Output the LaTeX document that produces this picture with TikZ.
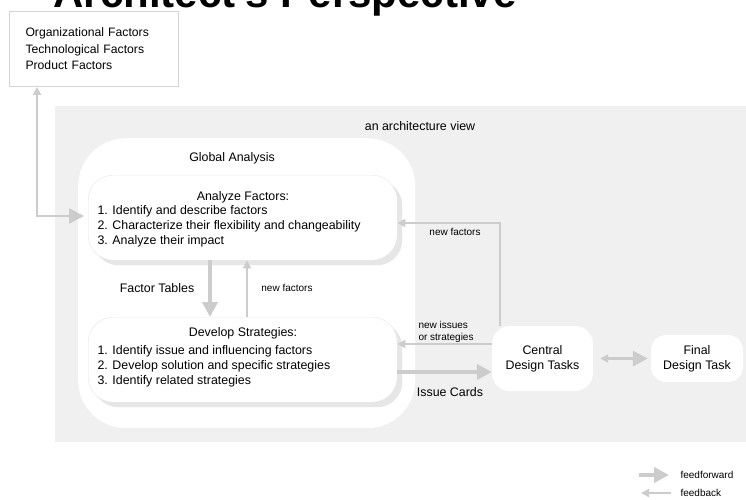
\documentclass[tikz,border=0pt]{standalone}
\usepackage{fontspec}
\setmainfont{Liberation Sans}
\usetikzlibrary{arrows.meta,shadows}

\definecolor{viewgray}{HTML}{F0F0F0}
\definecolor{linkgray}{HTML}{CCCCCC}
\definecolor{edgegray}{HTML}{D4D4D4}
\definecolor{shadegray}{HTML}{E6E6E6}

\tikzset{
    fftip/.tip={Triangle[length=15pt,width=15pt]},
    fbtip/.tip={Triangle[length=8pt,width=8pt]},
    maintext/.style={font=\fontsize{12.4}{15}\selectfont},
    smalltext/.style={font=\fontsize{10}{12}\selectfont},
    factorbox/.style={draw=edgegray, line width=1pt, fill=white, align=left,
        text width=137pt, inner xsep=16pt, minimum height=75pt,
        font=\fontsize{12.2}{16.5}\selectfont},
    stepsbox/.style={draw=shadegray, fill=white, rounded corners=25pt,
        minimum width=309pt, minimum height=85pt,
        copy shadow={shadow xshift=5pt, shadow yshift=-5pt, fill=shadegray, draw=none}},
    taskbox/.style={fill=white, align=center, maintext},
    ffarrow/.style={draw=linkgray, line width=4pt, -{fftip}},
    fbarrow/.style={draw=linkgray, line width=2.5pt, -{fbtip}},
}

\begin{document}
\begin{tikzpicture}[x=1pt,y=-1pt]
    \useasboundingbox (0,0) rectangle (746,500);

    % Title, cut by the top of the page
    \node[anchor=base, font=\fontsize{42}{48}\selectfont\bfseries] (title) at (285,8) {Architect's Perspective};

    % Factors
    \node[factorbox, anchor=north west] (factors) at (9,11) {Organizational Factors\\Technological Factors\\Product Factors};

    % Architecture view
    \fill[viewgray] (55,106) rectangle (746,442);
    \node[maintext] (view) at (420,126) {an architecture view};

    % Global analysis
    \node[fill=white, rounded corners=48pt, minimum width=337pt, minimum height=290pt, anchor=north west] (global) at (78,138) {};
    \node[maintext] (globaltitle) at (232,158) {Global Analysis};

    \node[stepsbox, anchor=north west] (analyze) at (88,175) {};
    \node[maintext] (analyzehead) at (243,197) {Analyze Factors:};
    \node[maintext, anchor=west, align=left] (analyzelist) at (94,226) {1. Identify and describe factors\\2. Characterize their flexibility and changeability\\3. Analyze their impact};

    \node[stepsbox, anchor=north west] (develop) at (88,317) {};
    \node[maintext] (develophead) at (243,333) {Develop Strategies:};
    \node[maintext, anchor=west, align=left] (developlist) at (94,366) {1. Identify issue and influencing factors\\2. Develop solution and specific strategies\\3. Identify related strategies};

    % Design tasks
    \node[taskbox, rounded corners=18pt, minimum width=101pt, minimum height=65pt] (central) at (542.5,358.5) {Central\\Design Tasks};
    \node[taskbox, rounded corners=15pt, minimum width=92pt, minimum height=47pt] (final) at (697,358.5) {Final\\Design Task};

    % Connectors
    \coordinate (bend) at (37,216);
    \coordinate (downx) at (210,0);
    \coordinate (upx) at (247,0);
    \coordinate (loop) at (500,223);
    \coordinate (issuesy) at (0,344);
    \coordinate (cardsy) at (0,372);

    \draw[draw=linkgray, line width=2.5pt, {fbtip}-{fftip}, shorten >=4pt] (factors.south -| bend) -- (bend) -- (analyze.west |- bend);
    \draw[ffarrow] (analyze.south -| downx) -- (develop.north -| downx);
    \draw[fbarrow] (develop.north -| upx) -- (analyze.south -| upx);
    \draw[fbarrow] (central.north -| loop) -- (loop) -- (analyze.east |- loop);
    \draw[fbarrow] (central.west |- issuesy) -- (develop.east |- issuesy);
    \draw[ffarrow] (develop.east |- cardsy) -- (central.west |- cardsy);
    \draw[draw=linkgray, line width=3pt, {fbtip}-{fftip}, shorten <=7pt, shorten >=3pt] (central) -- (final);

    \node[maintext] (tableslabel) at (157,288) {Factor Tables};
    \node[smalltext] (newfactors) at (287,288) {new factors};
    \node[smalltext] (loopfactors) at (455,232) {new factors};
    \node[smalltext, anchor=west, align=left] (issueslabel) at (415,332) {new issues\\or strategies};
    \node[maintext] (cardslabel) at (450,392) {Issue Cards};

    % Legend
    \coordinate (ffleft) at (639,475);
    \coordinate (ffright) at (669,475);
    \coordinate (fbleft) at (641,493);
    \coordinate (fbright) at (671,493);
    \draw[ffarrow] (ffleft) -- (ffright);
    \draw[fbarrow] (fbright) -- (fbleft);
    \node[smalltext, anchor=west] (fflabel) at (677,475) {feedforward};
    \node[smalltext, anchor=west] (fblabel) at (677,493) {feedback};
\end{tikzpicture}
\end{document}
